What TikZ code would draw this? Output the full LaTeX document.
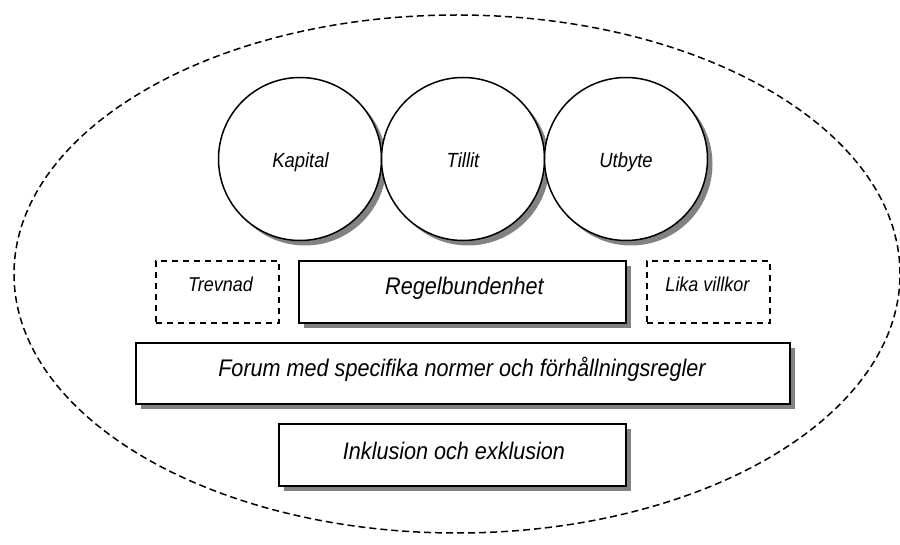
\documentclass[tikz,border=0pt]{standalone}
\usepackage{fontspec}
\setmainfont[FakeStretch=0.9]{Liberation Sans}
\usetikzlibrary{shadows}
\definecolor{shadowgray}{RGB}{130,130,130}
\tikzset{
  x=1pt,y=1pt,
  shadowed/.style={drop shadow={shadow xshift=5pt,shadow yshift=-5pt,fill=shadowgray,opacity=1}},
  ring/.style={circle,draw=black,line width=1.5pt,fill=white,minimum size=163pt,inner sep=0pt,shadowed},
  solidbox/.style={rectangle,draw=black,line width=2pt,fill=white,inner sep=0pt,shadowed},
  dashbox/.style={rectangle,draw=black,line width=1.8pt,dash pattern=on 6pt off 5pt,inner sep=0pt,minimum width=123pt,minimum height=62pt},
  lbl/.style={font=\itshape\fontsize{#1}{#1}\selectfont,inner sep=0pt,anchor=base},
}
\begin{document}
\begin{tikzpicture}
\useasboundingbox (0,0) rectangle (900,544);
% outer dashed ellipse
\draw[line width=1.5pt,dash pattern=on 7pt off 4pt] (457,270) ellipse [x radius=443, y radius=259];
% circles
\node[ring] (kap) at (300,385) {};
\node[ring] (til) at (463,385) {};
\node[ring] (utb) at (626,385) {};
\node[lbl=20.5] (kapt) at (300.5,376.7) {Kapital};
\node[lbl=20.5] (tilt) at (463,376.7) {Tillit};
\node[lbl=20.5] (utbt) at (626,376.7) {Utbyte};
% row of boxes
\node[dashbox] (trev) at (217.5,252) {};
\node[solidbox,minimum width=327pt,minimum height=62pt] (regel) at (462.5,252) {};
\node[dashbox] (lika) at (708.5,252) {};
\node[lbl=20] (trevt) at (220.5,252.3) {Trevnad};
\node[lbl=24] (regelt) at (464.5,249) {Regelbundenhet};
\node[lbl=20] (likat) at (707.5,252.3) {Lika villkor};
% forum
\node[solidbox,minimum width=654pt,minimum height=61pt] (forum) at (463,170.5) {};
\node[lbl=24] (forumt) at (462,167.3) {Forum med specifika normer och förhållningsregler};
% inklusion
\node[solidbox,minimum width=347pt,minimum height=62pt] (ink) at (452.5,89) {};
\node[lbl=24] (inkt) at (454,84.7) {Inklusion och exklusion};
\end{tikzpicture}
\end{document}
